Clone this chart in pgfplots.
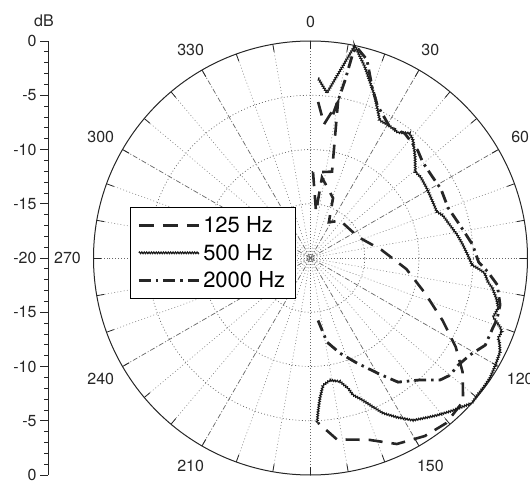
\documentclass[border=0pt]{standalone}
\usepackage{fontspec}
\setmainfont{TeX Gyre Heros}
\usepackage{pgfplots}
\pgfplotsset{compat=1.18}
\usepackage{pgfplotstable}
\usetikzlibrary{decorations.pathmorphing}

% angle in degrees (clockwise from top), level in dB (0 = outer circle, -20 = centre)
\pgfplotstableread{
deg dB
2.8 -5.6
5.8 -7.6
10.0 -5.4
14.0 -11.8
1.7 -12.1
6.8 -15.7
8.1 -12.5
20.6 -14.1
27.2 -16.3
38.6 -15.6
66.1 -15.2
83.6 -13.4
96.6 -11.1
107.3 -8.9
115.4 -6.5
121.5 -4.3
126.8 -2.5
133.2 -0.7
140.6 -0.3
147.3 -0.5
155.1 -1.1
162.2 -2.4
171.7 -3.1
177.4 -4.8
}\lowhz

\pgfplotstableread{
deg dB
2.4 -3.4
5.7 -4.7
11.8 0.0
15.9 -1.7
21.8 -4.0
26.7 -5.8
30.2 -5.8
34.8 -5.9
38.5 -5.3
41.0 -5.6
46.0 -6.6
50.6 -7.5
53.5 -7.4
59.0 -7.5
65.4 -7.6
70.0 -7.6
72.0 -7.2
76.7 -6.8
81.1 -6.3
85.1 -5.9
88.9 -5.5
92.5 -5.1
93.4 -4.6
94.9 -3.9
97.7 -3.5
99.4 -3.0
102.7 -2.4
104.9 -2.1
107.9 -2.3
110.0 -1.4
111.1 -1.1
113.1 -1.2
114.2 -0.9
116.4 -0.5
120.1 -0.3
123.8 -0.1
127.0 -0.1
129.5 -0.1
131.9 0.0
135.1 -0.5
137.8 -0.9
141.2 -1.4
143.9 -1.8
147.7 -2.3
151.5 -3.3
154.9 -4.2
157.2 -5.1
159.7 -6.0
162.8 -6.8
163.9 -7.5
166.6 -8.3
170.9 -8.6
174.4 -8.2
176.1 -7.1
177.2 -5.8
177.7 -4.8
}\midhz

\pgfplotstableread{
deg dB
8.9 -6.6
10.3 -4.7
11.0 -3.3
11.7 -0.7
12.3 -0.1
15.9 -1.0
19.9 -3.3
23.5 -4.6
31.3 -5.9
37.1 -5.6
44.9 -6.0
49.5 -6.4
56.3 -6.5
62.1 -6.4
70.0 -6.5
77.6 -5.9
85.4 -5.0
91.4 -4.5
94.5 -3.6
98.2 -2.6
103.9 -2.0
108.4 -1.9
110.7 -2.0
116.5 -2.0
121.3 -2.8
126.2 -3.2
130.0 -3.2
133.3 -3.6
138.1 -4.9
144.8 -6.0
149.1 -7.5
156.1 -9.4
162.7 -10.8
168.9 -12.1
173.1 -14.2
}\highhz

\begin{document}
\begin{tikzpicture}
\begin{scope}[x=10.85pt,y=10.85pt]
  \foreach \a in {10,20,40,50,70,80,100,110,130,140,160,170,190,200,220,230,250,260,280,290,310,320,340,350}
    \draw[black!50, line width=0.6pt, dash pattern=on 0.9pt off 2.3pt] (0,0) -- ({20*sin(\a)},{20*cos(\a)});
  \foreach \a in {0,90,180,270}
    \draw[black!60, line width=0.7pt, dash pattern=on 0.9pt off 2pt] (0,0) -- ({20*sin(\a)},{20*cos(\a)});
  \foreach \a in {30,60,120,150,210,240,300,330}
    \draw[black!60, line width=0.7pt, dash pattern=on 5pt off 2pt on 1pt off 2pt] (0,0) -- ({20*sin(\a)},{20*cos(\a)});
  \foreach \r in {5,10,15}
    \draw[black!60, line width=0.7pt, dash pattern=on 0.9pt off 2.3pt] (0,0) circle[radius=\r];
  \draw[black!85, line width=1pt] (0,0) circle[radius=20];
  \foreach \a in {0,10,...,350}
    \draw[black!85, line width=0.8pt] ({19.3*sin(\a)},{19.3*cos(\a)}) -- ({20*sin(\a)},{20*cos(\a)});
  \foreach \a in {0,30,60,120,150,210,240,270,300,330}
    \node[font=\fontsize{16}{18}\selectfont, inner sep=0pt, text=black!85]
      at ({(21.8+0.6*abs(sin(\a)))*sin(\a)},{(21.8+0.6*abs(sin(\a)))*cos(\a)}) {\a};
\end{scope}

\begin{axis}[
  anchor=origin, at={(0pt,0pt)},
  x=10.85pt, y=10.85pt,
  xmin=-24.19, xmax=20.23, ymin=-20, ymax=20,
  clip=false,
  axis x line=none,
  axis y line=left,
  y axis line style={-, black!85, line width=0.9pt},
  ytick={-20,-15,...,20},
  yticklabels={0,-5,-10,-15,-20,-15,-10,-5,0},
  minor y tick num=4,
  tick align=outside,
  major tick length=8pt, minor tick length=4pt,
  every tick/.style={black!85, line width=0.8pt},
  yticklabel style={font=\fontsize{16}{18}\selectfont, text=black!85},
  legend style={at={(axis cs:-16.64,4.70)}, anchor=north west,
    draw=black, fill=white, line width=1pt,
    font=\fontsize{22}{24}\selectfont,
    inner xsep=7pt, inner ysep=6pt, row sep=4pt,
    nodes={inner sep=3pt}},
  legend cell align=left,
  legend image code/.code={\draw[#1] (0pt,0pt) -- (60pt,0pt);},
]
\addplot[draw=black!85, dash pattern=on 14pt off 9pt, line width=2.6pt,
  legend image code/.code={\draw[black!85, line width=2.6pt, dash pattern=on 15pt off 9pt] (0pt,0pt) -- (60pt,0pt);}]
  table[x expr={(\thisrow{dB}+20)*sin(\thisrow{deg})}, y expr={(\thisrow{dB}+20)*cos(\thisrow{deg})}] \lowhz;
\addlegendentry{125 Hz}
\addplot[draw=black!90, decorate, decoration={zigzag, segment length=2.4pt, amplitude=0.8pt}, line width=1.2pt,
  legend image code/.code={\draw[black!90, line width=1.2pt, decorate, decoration={zigzag, segment length=2.4pt, amplitude=0.8pt}] (0pt,0pt) -- (60pt,0pt);}]
  table[x expr={(\thisrow{dB}+20)*sin(\thisrow{deg})}, y expr={(\thisrow{dB}+20)*cos(\thisrow{deg})}] \midhz;
\addlegendentry{500 Hz}
\addplot[draw=black!85, dash pattern=on 12pt off 5pt on 2.5pt off 5pt, line width=2.8pt,
  legend image code/.code={\draw[black!85, line width=2.8pt, dash pattern=on 12pt off 5pt on 2.5pt off 5pt] (0pt,0pt) -- (60pt,0pt);}]
  table[x expr={(\thisrow{dB}+20)*sin(\thisrow{deg})}, y expr={(\thisrow{dB}+20)*cos(\thisrow{deg})}] \highhz;
\addlegendentry{2000 Hz}
\end{axis}

\node[font=\fontsize{16}{18}\selectfont, text=black!85] at (-266.5pt,237pt) {dB};

\pgfresetboundingbox
\useasboundingbox (-310.5pt,-222pt) rectangle (219.5pt,258pt);
\end{tikzpicture}
\end{document}
